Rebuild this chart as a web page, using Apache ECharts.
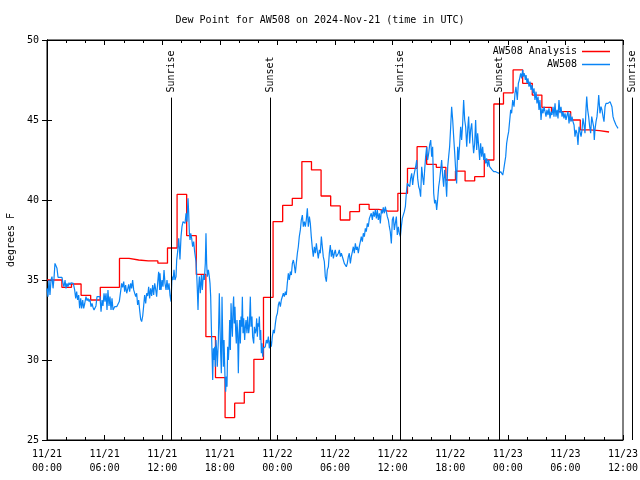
<!DOCTYPE html>
<html>
<head>
<meta charset="utf-8">
<script src="https://cdn.jsdelivr.net/npm/echarts@6/dist/echarts.min.js"></script>
<style>html,body{margin:0;padding:0;background:#fff}#c{width:640px;height:480px}</style>
</head>
<body>
<div id="c"></div>
<script>
// ---- data (hours since 2024-11-21 00:00 UTC) ----
const titleText = 'Dew Point for AW508 on 2024-Nov-21 (time in UTC)';
const tickLabels = ['11/21\n00:00','11/21\n06:00','11/21\n12:00','11/21\n18:00','11/22\n00:00','11/22\n06:00','11/22\n12:00','11/22\n18:00','11/23\n00:00','11/23\n06:00','11/23\n12:00'];
const yTicks = [25, 30, 35, 40, 45, 50];

// hourly analysis values (each hour's value holds from h-0.45 to h+0.55)
const analysisHourly = [
35.0,35.0,34.54,34.75,34.04,33.75,34.54,34.54,36.35,36.25,
36.19,36.19,36.05,37.0,40.35,37.77,35.35,31.46,28.9,26.4,
27.3,27.98,30.04,33.92,38.65,39.67,40.1,42.4,41.88,40.25,
39.63,38.75,39.27,39.73,39.42,39.31,39.31,40.42,41.98,43.33,
42.23,42.04,41.25,41.81,41.19,41.46,42.5,46.0,46.7,48.13,
47.29,46.56,45.79,45.52,45.52,45.0,44.38,44.33,44.25];

const obsHours = [
0.00,0.10,0.21,0.31,0.42,0.52,0.63,0.73,0.83,0.94,1.04,1.15,1.56,1.67,1.77,1.88,1.98,2.08,2.19,2.29,
2.40,2.50,2.60,2.74,2.88,2.99,3.09,3.19,3.30,3.40,3.51,3.61,3.72,3.82,3.92,4.06,4.17,4.27,4.38,4.48,
4.58,4.69,4.79,4.90,5.00,5.10,5.21,5.52,5.63,5.73,5.83,5.94,6.04,6.15,6.25,6.35,6.46,6.56,6.67,6.77,
6.88,7.05,7.26,7.43,7.53,7.67,7.78,7.88,7.99,8.09,8.19,8.30,8.40,8.51,8.61,8.72,8.82,8.92,9.03,9.13,
9.24,9.34,9.44,9.55,9.65,9.76,9.86,9.97,10.07,10.17,10.28,10.38,10.49,10.59,10.69,10.80,10.90,11.01,11.11,11.22,
11.32,11.42,11.53,11.63,11.74,
11.77,11.88,11.98,12.08,12.19,12.29,12.40,12.50,12.60,12.71,12.81,12.92,13.02,13.13,13.23,13.33,13.44,13.51,13.61,13.72,
13.78,13.85,13.96,14.06,14.17,14.27,14.38,14.48,14.58,14.69,14.76,14.83,14.90,14.97,15.07,15.17,15.28,15.38,15.45,15.52,
15.59,15.66,15.73,15.80,15.87,15.97,16.08,16.18,16.28,16.39,16.49,16.56,16.63,16.70,16.81,16.91,16.98,17.05,17.12,17.19,
17.26,17.33,17.40,17.47,17.53,17.60,17.67,17.74,17.85,17.95,18.02,18.09,18.16,18.23,18.30,18.37,18.44,18.54,18.61,18.68,
18.75,18.82,18.89,18.96,19.03,19.10,19.17,19.24,19.31,19.38,19.44,19.51,19.58,19.65,19.72,19.79,19.86,19.93,20.00,20.07,
20.14,20.21,20.28,20.35,20.42,20.49,20.59,20.66,20.73,20.83,20.90,21.01,21.08,21.18,21.25,21.35,21.42,21.53,21.60,21.70,
21.77,21.84,21.91,21.98,22.05,22.12,22.19,22.26,22.33,22.40,22.47,22.53,22.64,22.74,22.85,22.95,23.06,23.16,23.26,23.37,
23.47,23.58,23.68,23.79,23.89,24.00,
24.10,24.20,24.31,24.41,24.51,24.62,24.72,24.83,24.93,25.03,25.14,25.24,25.35,25.45,25.56,25.66,25.76,25.87,25.97,26.08,
26.18,26.28,26.39,26.49,26.60,26.70,26.81,26.91,27.01,27.12,27.22,27.33,27.43,27.53,27.64,27.74,27.85,27.95,28.06,28.16,
28.26,28.37,28.47,28.58,28.68,28.78,28.89,28.99,29.10,29.20,29.31,29.41,29.51,29.62,29.72,29.83,29.93,30.03,30.14,30.24,
30.35,30.45,30.56,30.66,30.76,30.87,30.97,31.08,31.18,31.28,31.39,31.49,31.60,31.70,31.81,31.91,32.01,32.12,32.22,32.33,
32.43,32.53,32.64,32.74,32.85,32.95,33.06,33.16,33.26,33.37,33.47,33.58,33.68,33.78,33.89,33.99,34.10,34.20,34.31,34.41,
34.51,34.62,34.72,34.83,34.93,35.03,35.14,35.24,35.35,35.45,35.56,35.66,35.76,35.87,35.97,36.08,36.18,36.28,36.39,36.49,
36.60,36.70,36.81,36.91,37.01,37.12,37.22,37.33,37.43,37.53,37.64,
37.78,37.88,37.99,38.09,38.19,38.30,38.40,38.51,38.61,38.72,38.82,38.92,39.03,39.13,39.24,39.34,39.44,39.55,39.65,39.76,
39.86,39.97,40.07,40.17,40.28,40.38,40.49,40.59,40.69,40.80,40.90,41.01,41.11,41.22,41.32,41.42,41.53,41.63,41.74,41.84,
41.94,42.05,42.15,42.26,42.36,42.47,42.57,42.67,42.78,42.88,42.99,43.09,43.19,43.30,43.40,43.51,43.61,43.72,43.82,43.92,
44.03,44.13,44.24,44.34,44.44,44.55,44.65,44.76,44.86,44.97,45.07,45.17,45.28,45.38,45.49,45.59,45.69,45.80,45.90,46.01,
46.11,46.22,46.32,46.42,46.53,46.63,46.74,46.84,46.94,47.05,47.15,47.26,47.36,47.47,47.57,47.67,47.78,47.88,47.99,48.09,
48.30,48.40,48.51,48.65,48.75,48.85,48.99,49.10,49.20,49.34,49.44,49.55,49.62,49.72,49.83,49.90,50.00,50.10,50.21,50.31,
50.42,50.52,50.63,50.73,50.83,50.94,51.04,51.15,51.25,51.35,51.46,51.56,51.67,51.77,51.88,51.98,52.08,52.19,52.29,52.40,
52.50,52.60,52.71,52.81,52.92,53.02,53.13,53.23,53.33,53.44,53.54,53.65,53.75,53.85,53.96,54.06,54.17,54.27,54.38,54.48,
54.58,54.69,54.79,54.90,55.00,55.10,55.21,55.31,55.42,55.52,55.63,55.73,55.83,55.94,56.04,56.15,56.22,56.32,56.42,56.53,
56.63,56.74,56.84,56.94,57.01,57.08,57.19,57.29,57.40,57.47,57.53,57.60,57.71,57.81,57.92,58.02,58.13,58.23,58.33,58.44,
58.54,58.65,58.75,58.85,58.96,59.06,59.17,59.27,59.38,59.48];

const obsDew = [
34.48,33.96,35.0,34.06,35.0,35.21,34.48,35.1,36.04,36.15,35.73,35.17,35.17,34.79,34.58,35.0,34.48,34.79,34.58,34.83,
34.69,34.83,34.79,34.79,34.38,33.85,34.27,33.75,34.06,33.23,33.85,33.23,33.75,33.23,33.5,33.96,33.71,33.85,33.65,33.79,
33.33,33.54,33.29,33.13,33.02,33.38,33.96,33.96,33.02,33.75,33.38,34.17,33.65,34.17,33.13,34.38,33.38,33.96,33.13,33.85,
33.13,33.33,33.33,33.33,33.65,33.75,34.79,34.54,34.9,34.27,34.69,34.17,34.42,34.73,34.27,34.79,34.48,35.0,34.38,34.27,
33.96,34.17,33.44,33.75,33.13,32.54,32.4,32.75,33.38,34.06,33.54,34.17,34.0,34.58,33.85,34.48,34.0,34.69,34.06,34.79,
34.42,33.96,34.83,35.52,34.38,
35.42,34.38,35.0,34.58,35.63,34.79,34.38,35.0,34.38,34.79,34.06,33.65,35.21,35.0,35.63,35.0,35.21,36.25,36.77,37.6,
37.08,36.29,37.71,38.33,38.65,38.75,38.54,39.17,38.65,40.1,39.17,37.92,37.5,37.92,37.6,37.08,37.4,36.77,36.46,36.15,
35.42,34.38,33.13,34.58,35.21,34.17,35.31,34.38,35.31,35.0,36.04,37.92,36.04,35.21,35.63,35.21,34.79,33.96,32.08,30.42,
28.75,30.73,30.0,30.83,29.58,31.25,30.63,29.58,31.25,34.17,32.08,30.42,29.17,33.96,31.46,29.58,31.25,28.96,28.02,28.96,
28.33,30.83,30.0,30.83,32.5,30.63,33.54,32.29,31.46,33.33,33.96,32.29,33.33,31.88,31.04,32.5,31.67,29.17,31.46,32.5,
31.04,32.71,32.08,33.96,31.67,32.6,31.25,32.08,32.5,31.67,32.71,31.67,32.08,33.96,32.08,32.71,31.46,31.04,32.08,31.67,
31.88,32.6,31.46,32.29,32.08,32.71,31.25,31.88,30.42,31.04,30.21,30.73,30.63,30.83,31.25,31.04,31.46,30.73,31.25,30.83,
31.46,31.88,31.67,32.29,32.71,32.92,
33.44,33.65,33.33,33.75,33.65,34.17,33.96,34.27,34.06,34.79,35.42,35.0,35.52,35.31,36.04,36.25,35.94,35.42,36.04,36.67,
37.08,37.71,38.13,38.75,39.06,38.33,38.65,38.33,38.75,39.48,38.33,38.96,38.54,37.71,36.98,36.46,37.08,36.67,37.29,36.77,
36.35,36.88,36.67,37.71,37.08,36.46,36.15,35.21,34.9,35.63,35.83,36.67,37.19,36.46,36.88,36.35,36.67,36.88,36.46,36.35,
36.67,36.88,36.46,36.67,36.56,36.25,36.04,36.15,35.83,36.04,36.46,36.67,36.04,36.46,36.77,37.08,36.67,37.29,36.88,37.08,
36.67,37.08,37.4,37.71,37.4,37.92,37.71,38.23,38.02,38.54,38.33,38.85,38.75,39.17,38.75,39.27,38.96,39.38,38.85,39.38,
38.75,39.17,38.54,39.38,39.17,39.54,39.17,39.58,39.27,38.96,38.75,38.33,38.02,37.29,38.75,38.96,38.13,38.54,38.96,37.81,
38.33,37.92,37.71,38.33,38.85,38.96,39.27,39.58,40.42,41.04,41.15,
40.83,41.35,41.67,40.94,41.46,41.56,42.08,42.5,41.35,40.83,40.63,40.21,42.08,41.46,40.94,41.88,42.71,43.33,42.5,42.92,
43.44,43.75,42.71,43.33,40.42,39.79,40.0,39.38,40.0,40.83,41.25,41.88,42.5,41.46,40.83,41.88,41.25,40.21,42.08,42.71,
43.33,44.58,45.83,45.0,43.96,42.92,41.88,41.04,43.33,42.5,43.54,44.58,43.75,44.79,46.25,45.0,44.58,43.33,44.38,45.21,
43.54,44.38,44.79,43.75,42.92,43.54,45.0,43.13,44.17,43.33,42.5,43.54,42.71,43.33,42.5,42.92,42.29,42.6,42.08,42.5,
42.08,41.98,41.92,41.88,41.77,41.88,41.77,41.88,41.77,41.67,41.56,41.77,41.67,41.56,41.88,42.29,42.71,43.54,43.96,44.27,
45.63,45.42,46.25,45.83,46.67,47.08,46.25,47.29,47.5,47.92,47.6,48.13,47.71,47.92,47.5,47.81,47.29,47.6,47.08,47.4,
46.88,47.19,46.67,46.98,46.25,46.77,46.04,46.46,45.63,46.25,45.0,45.73,45.42,45.83,45.52,45.21,45.63,45.31,45.73,45.1,
45.52,45.31,45.83,45.21,46.04,45.21,45.63,45.1,46.25,45.42,45.83,45.21,45.52,45.1,45.42,45.0,45.31,45.52,44.79,45.42,
44.9,45.21,44.9,44.69,43.96,44.38,44.17,43.44,44.58,44.27,43.96,44.38,45.1,44.69,44.17,45.73,46.46,45.63,45.21,44.58,
44.17,45.21,44.9,44.58,43.75,44.38,44.9,45.21,45.94,46.56,46.04,45.42,45.83,45.63,45.21,44.9,45.83,46.04,45.94,46.04,
46.08,46.15,46.04,45.83,45.21,45.0,44.9,44.69,44.58,44.48];

const sunEvents = [
  {label: 'Sunrise', hour: 12.88},
  {label: 'Sunset', hour: 23.28},
  {label: 'Sunrise', hour: 36.80},
  {label: 'Sunset', hour: 47.11},
  {label: 'Sunrise', hour: 60.90}
];
const sunLineTop = 46.4;

// ---- build ----
const analysisData = analysisHourly.map((v, k) => [Math.max(0, k - 0.45), v]);
analysisData.push([analysisHourly.length - 1 + 0.55, analysisHourly[analysisHourly.length - 1]]);
const obsData = obsHours.map((h, i) => [h, obsDew[i]]);

const FONT = 'DejaVu Sans Mono';
const chart = echarts.init(document.getElementById('c'), null, {renderer: 'canvas'});

const xCommon = {
  type: 'value', min: 0, max: 60, interval: 6,
  splitLine: {show: false},
  axisLine: {show: true, lineStyle: {color: '#000', width: 1}},
  axisTick: {show: true, inside: true, length: 5, lineStyle: {color: '#000'}},
  minorTick: {show: true, splitNumber: 3, length: 3, lineStyle: {color: '#000'}},
  minorSplitLine: {show: false}
};
const yCommon = {
  type: 'value', min: 25, max: 50, interval: 5,
  splitLine: {show: false},
  axisLine: {show: true, lineStyle: {color: '#000', width: 1}},
  axisTick: {show: true, inside: true, length: 5, lineStyle: {color: '#000'}}
};

const option = {
  animation: false,
  backgroundColor: '#fff',
  title: {
    text: titleText, left: 'center', top: 10,
    textStyle: {fontFamily: FONT, fontSize: 10, fontWeight: 'normal', color: '#000'}
  },
  legend: {
    orient: 'vertical', right: 25, top: 41, align: 'right',
    icon: 'rect', itemWidth: 28, itemHeight: 1.5, itemGap: 2,
    textStyle: {fontFamily: FONT, fontSize: 10, color: '#000', lineHeight: 11},
    data: ['AW508 Analysis', 'AW508']
  },
  grid: {left: 47, right: 17, top: 40, bottom: 40, show: true, borderColor: '#000', borderWidth: 1,
    backgroundColor: 'transparent', containLabel: false, outerBoundsMode: 'none'},
  xAxis: [
    Object.assign({}, xCommon, {
      position: 'bottom',
      axisLabel: {
        fontFamily: FONT, fontSize: 10, color: '#000', margin: 7, lineHeight: 14,
        formatter: v => { const i = Math.round(v / 6); return tickLabels[i] !== undefined ? tickLabels[i] : ''; }
      }
    }),
    Object.assign({}, xCommon, {position: 'top', axisLabel: {show: false}})
  ],
  yAxis: [
    Object.assign({}, yCommon, {
      position: 'left',
      name: 'degrees F', nameLocation: 'middle', nameGap: 30, nameRotate: 90,
      nameTextStyle: {fontFamily: FONT, fontSize: 10, color: '#000'},
      axisLabel: {fontFamily: FONT, fontSize: 10, color: '#000', margin: 8,
        formatter: v => yTicks.indexOf(v) >= 0 ? String(v) : ''}
    }),
    Object.assign({}, yCommon, {position: 'right', axisLabel: {show: false}})
  ],
  series: [
    {
      name: 'AW508 Analysis', type: 'line', step: 'end', data: analysisData,
      xAxisIndex: 0, yAxisIndex: 0,
      symbol: 'none', showSymbol: false,
      lineStyle: {color: '#ff0000', width: 1.3}, itemStyle: {color: '#ff0000'}
    },
    {
      name: 'AW508', type: 'line', data: obsData,
      xAxisIndex: 0, yAxisIndex: 0,
      symbol: 'none', showSymbol: false,
      lineStyle: {color: '#0a84f5', width: 1.2}, itemStyle: {color: '#0a84f5'}
    }
  ]
};
chart.setOption(option);

// sunrise / sunset annotations placed through the axis scales
const graphics = [];
sunEvents.forEach(ev => {
  const top = chart.convertToPixel({xAxisIndex: 0, yAxisIndex: 0}, [ev.hour, sunLineTop]);
  const bot = chart.convertToPixel({xAxisIndex: 0, yAxisIndex: 0}, [ev.hour, 25]);
  const x = Math.round(top[0]) + 0.5;
  graphics.push({
    type: 'line', z: 50,
    shape: {x1: x, y1: top[1], x2: x, y2: bot[1]},
    style: {stroke: '#000', lineWidth: 1}
  });
  graphics.push({
    type: 'text', z: 50,
    x: x, y: top[1] - 5, rotation: Math.PI / 2,
    style: {text: ev.label, font: '10px "DejaVu Sans Mono"', fill: '#000',
      align: 'left', verticalAlign: 'middle', textAlign: 'left', textVerticalAlign: 'middle'}
  });
});
chart.setOption({graphic: graphics});
</script>
</body>
</html>
